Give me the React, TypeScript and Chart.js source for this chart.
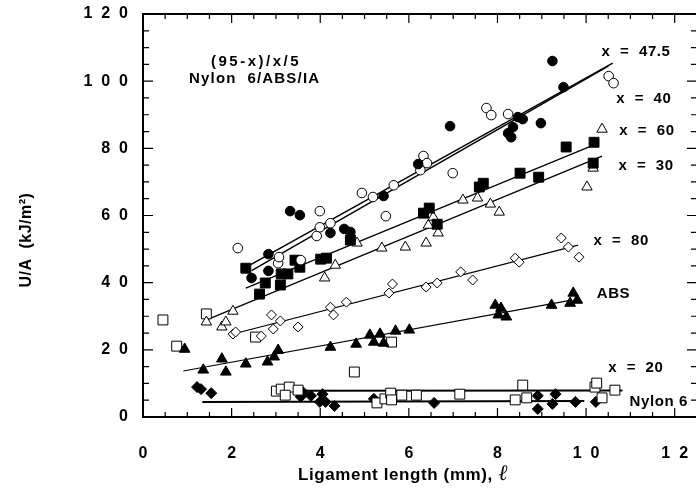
import React, { useEffect, useRef } from 'react';
import { Chart, registerables } from 'chart.js';
Chart.register(...registerables);

type P = [number, number];

// ---- data ----
const X_TICKS = [0, 2, 4, 6, 8, 10, 12];
const Y_TICKS = [0, 20, 40, 60, 80, 100, 120];

const x475Pts: P[] = [[2.45,41.4],[2.83,48.5],[2.83,43.5],[3.32,61.3],[3.54,60.1],[4.23,54.8],[4.54,56.0],[4.68,55.1],[5.43,65.8],[6.21,75.3],[6.93,86.6],[8.24,84.5],[8.31,83.3],[8.35,86.3],[8.46,89.3],[8.57,88.7],[8.98,87.5],[9.24,106.0],[9.49,98.2]];
const x40Pts: P[] = [[2.14,50.3],[3.05,45.8],[3.07,47.6],[3.56,46.7],[3.92,53.9],[3.99,61.3],[3.99,56.5],[4.23,57.7],[4.94,66.7],[5.19,65.5],[5.48,59.8],[5.66,69.0],[6.26,73.5],[6.33,77.7],[6.41,75.6],[6.99,72.6],[7.75,92.0],[7.86,89.9],[8.24,90.2],[10.51,101.5],[10.62,99.4]];
const x30Pts: P[] = [[2.32,44.3],[2.63,36.6],[2.76,39.9],[3.12,42.6],[3.10,39.3],[3.27,42.6],[3.43,46.7],[3.54,44.6],[4.01,47.0],[4.14,47.3],[4.68,52.7],[6.33,60.7],[6.46,62.2],[6.64,57.4],[7.59,68.5],[7.68,69.6],[8.51,72.6],[8.93,71.4],[9.55,80.4],[10.18,81.8],[10.16,75.6]];
const x60Pts: P[] = [[1.43,28.3],[1.78,26.8],[1.87,28.3],[2.03,31.5],[4.10,41.4],[4.34,45.2],[4.83,51.8],[5.39,50.3],[5.92,50.6],[6.39,51.8],[6.44,57.1],[6.55,59.5],[6.66,54.8],[7.22,64.6],[7.55,65.2],[7.84,63.4],[8.04,61.0],[10.02,68.5],[10.16,74.1],[10.36,85.7]];
const x80Pts: P[] = [[2.03,24.7],[2.09,25.3],[2.67,24.1],[2.90,30.4],[2.94,26.2],[3.10,28.6],[3.50,26.8],[4.23,32.7],[4.30,30.4],[4.59,34.2],[5.55,36.9],[5.63,39.6],[6.39,38.7],[6.64,39.9],[7.17,43.2],[7.44,40.8],[8.40,47.3],[8.49,46.1],[9.44,53.3],[9.60,50.6],[9.84,47.6]];
const absPts: P[] = [[0.94,20.2],[1.36,14.0],[1.78,17.3],[1.87,13.4],[2.32,15.8],[2.81,16.4],[2.96,17.9],[3.05,19.9],[4.23,20.8],[4.81,21.7],[5.12,24.4],[5.21,22.3],[5.35,24.7],[5.43,22.0],[5.70,25.6],[6.01,25.9],[7.95,33.3],[8.08,32.4],[8.02,30.4],[8.20,29.8],[9.22,33.3],[9.71,36.9],[9.64,33.9],[9.80,34.8]];
const x20Pts: P[] = [[0.45,28.9],[0.76,21.1],[1.43,30.7],[2.54,23.8],[3.01,7.7],[3.12,8.3],[3.30,8.9],[3.50,8.0],[3.21,6.5],[4.77,13.4],[5.28,4.2],[5.46,5.4],[5.59,7.1],[5.61,5.1],[5.61,22.3],[5.84,6.5],[6.17,6.5],[7.15,6.8],[8.40,5.1],[8.57,9.5],[8.66,5.7],[10.20,8.9],[10.24,10.1],[10.36,5.7],[10.65,8.0]];
const nylonPts: P[] = [[1.22,8.9],[1.31,8.3],[1.54,7.1],[3.61,7.4],[3.56,6.0],[3.79,6.3],[4.05,6.8],[3.99,4.5],[4.12,4.5],[4.32,3.3],[5.21,5.4],[6.57,4.2],[8.91,6.3],[8.91,2.4],[9.31,6.8],[9.24,3.9],[9.76,4.5],[10.22,4.5]];

const fit475: P[] = [[2.35,44.8],[10.6,105.4]];
const fit40: P[] = [[2.45,43.6],[10.5,104.5]];
const fit30: P[] = [[2.32,38.4],[10.18,81.0]];
const fit60: P[] = [[1.49,29.2],[10.36,77.7]];
const fit80: P[] = [[2.12,25.0],[9.82,51.2]];
const fitAbs: P[] = [[0.91,13.7],[9.67,34.8]];
const fit20: P[] = [[2.98,7.8],[10.82,7.9]];
const fitNylon: P[] = [[1.34,4.5],[9.96,4.8]];

const seriesLabels = ['x  =  47.5', 'x  =  40', 'x  =  60', 'x  =  30', 'x  =  80', 'ABS', 'x  =  20', 'Nylon 6'];
const titleLines = ['(95-x)/x/5', 'Nylon  6/ABS/IA'];
const X_TITLE = 'Ligament length (mm), ';
const X_TITLE_SYM = 'ℓ';
const Y_TITLE = 'U/A  (kJ/m²)';

const FONT = '"Liberation Sans", Arial, Helvetica, sans-serif';

const toXY = (a: P[]) => a.map(([x, y]) => ({ x, y }));
const spaced = (v: number) => String(v).split('').join('  ');

function pts(data: P[], style: string, radius: number, filled: boolean) {
  return {
    data: toXY(data),
    showLine: false,
    pointStyle: style,
    pointRadius: radius,
    pointBorderWidth: 1,
    pointBorderColor: '#000',
    pointBackgroundColor: filled ? '#000' : '#fff',
    order: 0,
  };
}
function fit(data: P[], width: number) {
  return {
    data: toXY(data),
    showLine: true,
    borderColor: '#000',
    borderWidth: width,
    pointRadius: 0,
    fill: false,
    order: 1,
  };
}

const decor = {
  id: 'decor',
  afterDraw(chart: any) {
    const { ctx, chartArea, scales } = chart;
    const { left, top, bottom } = chartArea;
    const W = chart.width;
    const xs = scales.x, ys = scales.y;
    ctx.save();
    ctx.strokeStyle = '#000';
    ctx.fillStyle = '#000';
    // frame
    ctx.lineWidth = 2;
    ctx.beginPath();
    ctx.moveTo(W, top); ctx.lineTo(left, top); ctx.lineTo(left, bottom); ctx.lineTo(W, bottom);
    ctx.stroke();
    // ticks
    ctx.lineWidth = 1.2;
    ctx.beginPath();
    for (let i = 1; i <= 24; i++) {
      const v = i * 0.5;
      const px = xs.getPixelForValue(v);
      const len = i % 4 === 0 ? 9 : 5;
      ctx.moveTo(px, bottom); ctx.lineTo(px, bottom - len);
      ctx.moveTo(px, top); ctx.lineTo(px, top + len);
    }
    for (let i = 1; i < 24; i++) {
      const v = i * 5;
      const py = ys.getPixelForValue(v);
      const len = i % 4 === 0 ? 10 : 6;
      ctx.moveTo(left, py); ctx.lineTo(left + len, py);
      ctx.moveTo(W + 1, py); ctx.lineTo(W + 1 - len, py);
    }
    ctx.stroke();

    // series labels
    ctx.font = `bold 15px ${FONT}`;
    ctx.textBaseline = 'middle';
    ctx.textAlign = 'left';
    (ctx as any).letterSpacing = '0.6px';
    const pos: P[] = [[10.35,108.6],[10.68,94.6],[10.75,85.1],[10.73,74.7],[10.17,52.4],[10.24,36.6],[10.5,14.6],[10.98,4.5]];
    seriesLabels.forEach((t, i) => {
      ctx.fillText(t, xs.getPixelForValue(pos[i][0]), ys.getPixelForValue(pos[i][1]));
    });
    // title block
    ctx.textAlign = 'center';
    (ctx as any).letterSpacing = '2.5px';
    ctx.fillText(titleLines[0], xs.getPixelForValue(2.55), ys.getPixelForValue(105.7));
    (ctx as any).letterSpacing = '1.2px';
    ctx.fillText(titleLines[1], xs.getPixelForValue(2.52), ys.getPixelForValue(100.6));

    // x title
    (ctx as any).letterSpacing = '0.6px';
    ctx.font = `bold 17px ${FONT}`;
    const w1 = ctx.measureText(X_TITLE).width;
    ctx.font = `italic 22px "DejaVu Serif", serif`;
    const w2 = ctx.measureText(X_TITLE_SYM).width;
    const cx = 403, cy = 475;
    const start = cx - (w1 + w2) / 2;
    ctx.textAlign = 'left';
    ctx.font = `bold 17px ${FONT}`;
    ctx.fillText(X_TITLE, start, cy);
    ctx.font = `italic 22px "DejaVu Serif", serif`;
    ctx.fillText(X_TITLE_SYM, start + w1, cy - 1);

    // y title
    ctx.font = `bold 16px ${FONT}`;
    (ctx as any).letterSpacing = '0.5px';
    ctx.translate(27, 240);
    ctx.rotate(-Math.PI / 2);
    ctx.textAlign = 'center';
    ctx.fillText(Y_TITLE, 0, 0);
    ctx.restore();
  },
};

export default function App() {
  const ref = useRef<HTMLCanvasElement | null>(null);
  useEffect(() => {
    if (!ref.current) return;
    const tickFont = { family: FONT, size: 16, weight: 'bold' as const };
    const chart = new Chart(ref.current, {
      type: 'scatter',
      data: {
        datasets: [
          pts(x475Pts, 'circle', 4.8, true),
          pts(x40Pts, 'circle', 4.8, false),
          pts(x30Pts, 'rect', 7, true),
          pts(x60Pts, 'triangle', 6, false),
          pts(x80Pts, 'rectRot', 5, false),
          pts(absPts, 'triangle', 6.2, true),
          pts(x20Pts, 'rect', 7, false),
          pts(nylonPts, 'rectRot', 5.5, true),
          fit(fit475, 1.5),
          fit(fit40, 1.5),
          fit(fit30, 1.3),
          fit(fit60, 1.3),
          fit(fit80, 1.2),
          fit(fitAbs, 1.2),
          fit(fit20, 2),
          fit(fitNylon, 2),
        ] as any,
      },
      options: {
        animation: false,
        responsive: false,
        maintainAspectRatio: false,
        events: [],
        layout: { padding: { top: 14, right: 0, left: 0, bottom: 0 } },
        plugins: { legend: { display: false }, tooltip: { enabled: false }, title: { display: false } },
        scales: {
          x: {
            type: 'linear',
            min: 0,
            max: 12.3,
            afterFit: (s: any) => { s.height = 73; s.paddingLeft = 0; s.paddingRight = 0; },
            afterBuildTicks: (s: any) => { s.ticks = X_TICKS.map((v) => ({ value: v })); },
            grid: { display: false, drawTicks: false },
            border: { display: false },
            ticks: {
              autoSkip: false,
              maxRotation: 0,
              includeBounds: false,
              padding: 27,
              color: '#000',
              font: tickFont,
              callback: (v: any) => spaced(Number(v)),
            },
          },
          y: {
            type: 'linear',
            min: 0,
            max: 120,
            afterFit: (s: any) => { s.width = 143; s.paddingTop = 0; s.paddingBottom = 0; },
            afterBuildTicks: (s: any) => { s.ticks = Y_TICKS.map((v) => ({ value: v })); },
            grid: { display: false, drawTicks: false },
            border: { display: false },
            ticks: {
              autoSkip: false,
              padding: 15,
              color: '#000',
              font: tickFont,
              callback: (v: any) => spaced(Number(v)),
            },
          },
        },
      },
      plugins: [decor],
    });
    return () => chart.destroy();
  }, []);
  return (
    <div style={{ position: 'absolute', left: 0, top: 0, width: 696, height: 490, background: '#fff' }}>
      <canvas ref={ref} width={696} height={490} style={{ width: 696, height: 490, display: 'block' }} />
    </div>
  );
}
